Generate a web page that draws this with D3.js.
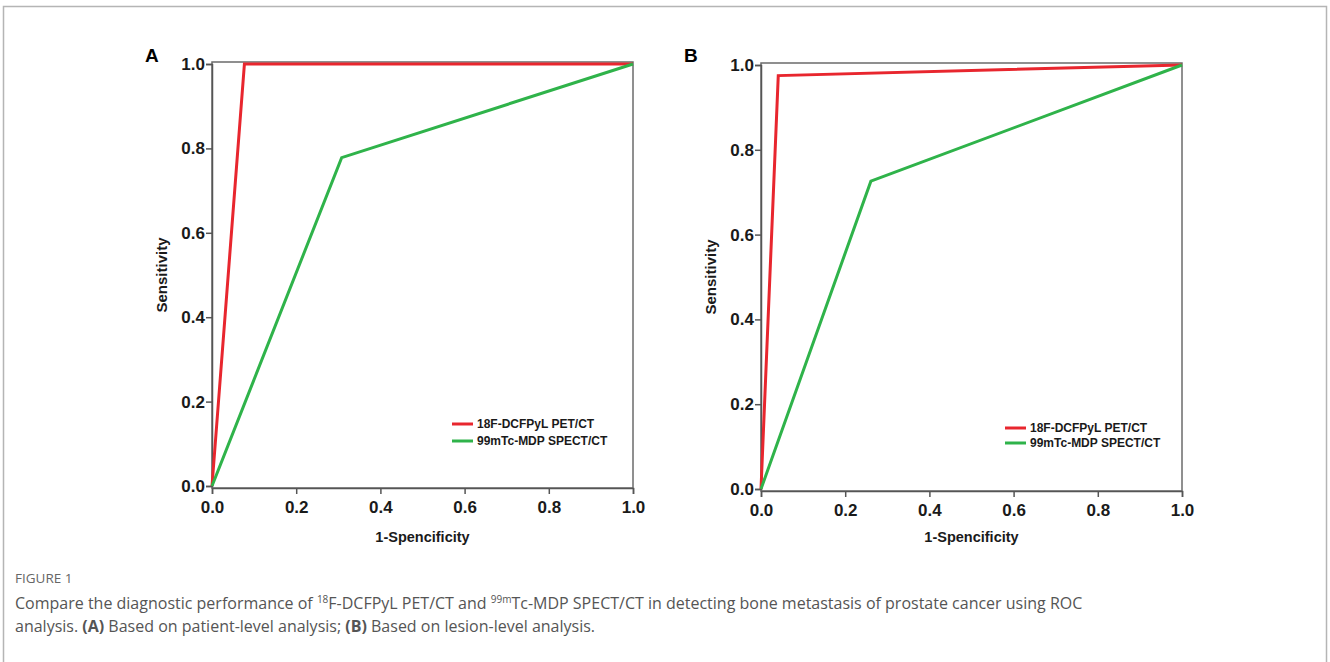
<!DOCTYPE html>
<html><head><meta charset="utf-8">
<script src="https://cdn.jsdelivr.net/npm/d3@7"></script>
<style>body{margin:0;background:#fff}svg{display:block}</style>
</head><body>
<svg id="c" width="1330" height="662"></svg>
<script>
// ---- data ----
const xTicks = [0, 0.2, 0.4, 0.6, 0.8, 1.0];
const yTicks = [0, 0.2, 0.4, 0.6, 0.8, 1.0];
const seriesNames = ["18F-DCFPyL PET/CT", "99mTc-MDP SPECT/CT"];
const panelLabels = ["A", "B"];
const xTitle = "1-Spencificity";
const yTitle = "Sensitivity";
// Panel A (patient-level)
const a_pet_fpr = [0, 0.077, 1];
const a_pet_tpr = [0, 1, 1];
const a_spect_fpr = [0, 0.308, 1];
const a_spect_tpr = [0, 0.778, 1];
// Panel B (lesion-level)
const b_pet_fpr = [0, 0.041, 1];
const b_pet_tpr = [0, 0.975, 1];
const b_spect_fpr = [0, 0.261, 1];
const b_spect_tpr = [0, 0.726, 1];

// ---- style / layout ----
const colors = ["#e8262e", "#2fb34a"];
const font = "'Liberation Sans', Arial, sans-serif";
const panels = [
  {label: panelLabels[0], xr: [212, 633], yr: [486, 64], lab: [145, 62], leg: [452, 424, 17],
   series: [[a_pet_fpr, a_pet_tpr], [a_spect_fpr, a_spect_tpr]]},
  {label: panelLabels[1], xr: [761, 1182], yr: [489, 65], lab: [684, 62], leg: [1005, 428, 15],
   series: [[b_pet_fpr, b_pet_tpr], [b_spect_fpr, b_spect_tpr]]}
];

const svg = d3.select("#c");
// outer box
svg.append("rect").attr("x", 3.5).attr("y", 6.5).attr("width", 1323).attr("height", 700)
  .attr("fill", "none").attr("stroke", "#b5b5b5").attr("stroke-width", 1.5);

panels.forEach(p => {
  const x = d3.scaleLinear().domain([0, 1]).range(p.xr);
  const y = d3.scaleLinear().domain([0, 1]).range(p.yr);
  const g = svg.append("g");
  // frame (top/right)
  g.append("rect").attr("x", p.xr[0]).attr("y", p.yr[1] - 2)
    .attr("width", p.xr[1] - p.xr[0]).attr("height", p.yr[0] - p.yr[1] + 4)
    .attr("fill", "none").attr("stroke", "#6b6b6b").attr("stroke-width", 1.5);
  // axes
  const xa = g.append("g").attr("transform", `translate(0,${p.yr[0] + 2})`)
    .call(d3.axisBottom(x).tickValues(xTicks).tickFormat(d3.format(".1f")).tickSize(6).tickPadding(7));
  const ya = g.append("g").attr("transform", `translate(${p.xr[0]},0)`)
    .call(d3.axisLeft(y).tickValues(yTicks).tickFormat(d3.format(".1f")).tickSize(6).tickPadding(1));
  [xa, ya].forEach(a => {
    a.select(".domain").attr("stroke", "#555").attr("stroke-width", 1.5);
    a.selectAll(".tick line").attr("stroke", "#555").attr("stroke-width", 1.5);
    a.selectAll(".tick text").attr("fill", "#1a1a1a").style("font", `bold 17px ${font}`);
  });
  // curves
  const line = d3.line().x(d => x(d[0])).y(d => y(d[1]));
  p.series.forEach((s, i) => {
    const pts = s[0].map((v, k) => [v, s[1][k]]);
    g.append("path").datum(pts).attr("d", line).attr("fill", "none")
      .attr("stroke", colors[i]).attr("stroke-width", 3).attr("stroke-linejoin", "miter");
  });
  // titles
  g.append("text").attr("x", (p.xr[0] + p.xr[1]) / 2).attr("y", 542).attr("text-anchor", "middle")
    .attr("fill", "#1a1a1a").style("font", `bold 14.5px ${font}`).text(xTitle);
  g.append("text").attr("transform", `translate(${p.xr[0] - 50},${(p.yr[0] + p.yr[1]) / 2}) rotate(-90)`)
    .attr("text-anchor", "middle").attr("dy", "0.35em")
    .attr("fill", "#1a1a1a").style("font", `bold 15px ${font}`).text(yTitle);
  g.append("text").attr("x", p.lab[0]).attr("y", p.lab[1]).attr("fill", "#000")
    .style("font", `bold 19px ${font}`).text(p.label);
  // legend
  seriesNames.forEach((n, i) => {
    const ly = p.leg[1] + i * p.leg[2];
    g.append("line").attr("x1", p.leg[0]).attr("x2", p.leg[0] + 21).attr("y1", ly).attr("y2", ly)
      .attr("stroke", colors[i]).attr("stroke-width", 3);
    g.append("text").attr("x", p.leg[0] + 25).attr("y", ly).attr("dy", "0.35em")
      .attr("fill", "#1a1a1a").style("font", `bold 12px ${font}`).text(n);
  });
});

// caption
const capFont = "'Open Sans', 'Noto Sans', sans-serif";
svg.append("text").attr("x", 15).attr("y", 583).attr("fill", "#666")
  .style("font", `13.5px ${capFont}`).text("FIGURE 1");
const l1 = svg.append("text").attr("x", 15).attr("y", 609).attr("fill", "#555").style("font", `16px ${capFont}`);
l1.append("tspan").text("Compare the diagnostic performance of ");
l1.append("tspan").attr("dy", -6).style("font-size", "10px").text("18");
l1.append("tspan").attr("dy", 6).text("F-DCFPyL PET/CT and ");
l1.append("tspan").attr("dy", -6).style("font-size", "10px").text("99m");
l1.append("tspan").attr("dy", 6).text("Tc-MDP SPECT/CT in detecting bone metastasis of prostate cancer using ROC");
const l2 = svg.append("text").attr("x", 15).attr("y", 632).attr("fill", "#555").style("font", `16px ${capFont}`);
l2.append("tspan").text("analysis. ");
l2.append("tspan").style("font-weight", "bold").text("(A)");
l2.append("tspan").text(" Based on patient-level analysis; ");
l2.append("tspan").style("font-weight", "bold").text("(B)");
l2.append("tspan").text(" Based on lesion-level analysis.");
</script>
</body></html>
